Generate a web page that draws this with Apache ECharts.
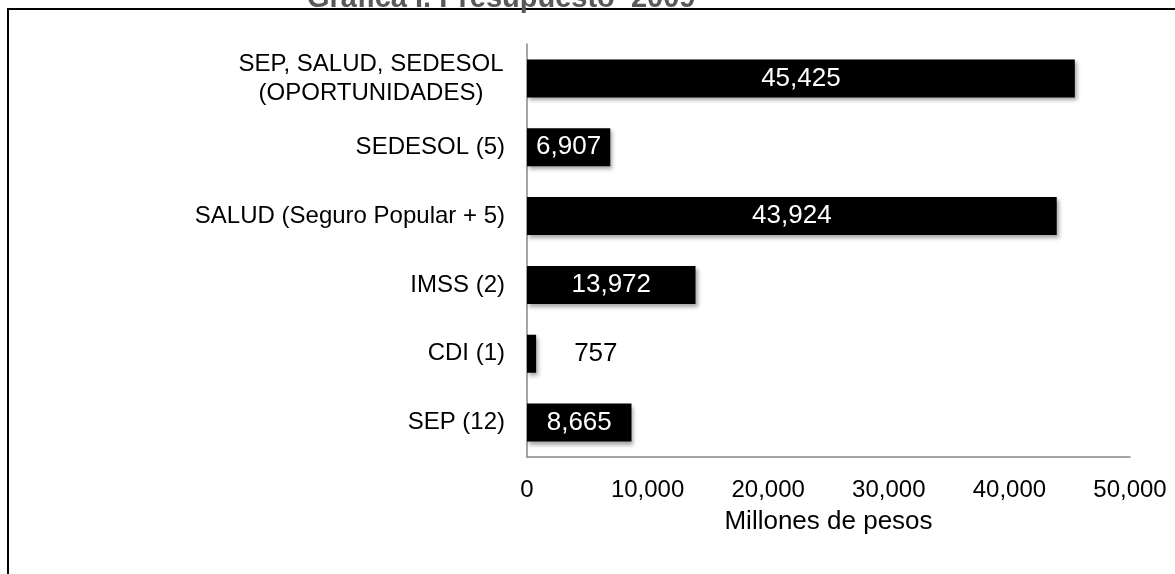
<!DOCTYPE html>
<html>
<head>
<meta charset="utf-8">
<script src="https://cdn.jsdelivr.net/npm/echarts@6/dist/echarts.min.js"></script>
<style>
  html, body { margin: 0; padding: 0; background: #fff; }
  #chart { width: 1175px; height: 574px; }
</style>
</head>
<body>
<div id="chart"></div>
<script>
// categorias de abajo hacia arriba
var categorias = ['SEP (12)', 'CDI (1)', 'IMSS (2)', 'SALUD (Seguro Popular + 5)', 'SEDESOL (5)', 'SEP, SALUD, SEDESOL\n(OPORTUNIDADES)']
var presupuesto = [8665, 757, 13972, 43924, 6907, 45425]
var ticks = [0, 10000, 20000, 30000, 40000, 50000]

var fuente = '"Liberation Sans", Arial, sans-serif'

var myChart = echarts.init(document.getElementById('chart'))

var datos = presupuesto.map(function (v) {
  var item = { value: v }
  // la barra de CDI es muy corta, la etiqueta va afuera
  if (v < 2000) {
    item.label = { position: 'right', distance: 38, color: '#000' }
  }
  return item
})

var option = {
  animation: false,
  textStyle: { fontFamily: fuente },
  title: {
    text: 'Gráfica I. Presupuesto  2009',
    left: 302,
    top: -21,
    textStyle: { color: '#595959', fontWeight: 'bold', fontSize: 29, fontFamily: fuente }
  },
  graphic: [{
    type: 'rect',
    shape: { x: 8, y: 9, width: 1300, height: 700 },
    style: { fill: 'none', stroke: '#000', lineWidth: 2 },
    silent: true
  }],
  grid: {
    left: 527,
    right: 45,
    top: 44,
    bottom: 117
  },
  xAxis: {
    type: 'value',
    min: ticks[0],
    max: ticks[ticks.length - 1],
    interval: 10000,
    name: 'Millones de pesos',
    nameLocation: 'middle',
    nameGap: 52,
    nameTextStyle: { fontSize: 26, color: '#000', fontFamily: fuente },
    axisLine: { show: true, lineStyle: { color: '#888', width: 1.5 } },
    axisTick: { show: false },
    splitLine: { show: false },
    axisLabel: {
      fontSize: 24,
      color: '#000',
      margin: 21,
      formatter: function (v) { return v.toLocaleString('en-US') }
    }
  },
  yAxis: {
    type: 'category',
    data: categorias,
    axisLine: { show: true, lineStyle: { color: '#888', width: 1.5 } },
    axisTick: { show: false },
    axisLabel: {
      fontSize: 24,
      color: '#000',
      margin: 22,
      align: 'right',
      lineHeight: 29,
      // las etiquetas de dos lineas van centradas entre si
      formatter: function (v) {
        if (v.indexOf('\n') < 0) return v
        return v.split('\n').map(function (l) { return '{m|' + l + '}' }).join('\n')
      },
      rich: {
        m: { width: 268, align: 'center', fontSize: 24, lineHeight: 29, color: '#000' }
      }
    }
  },
  series: [{
    type: 'bar',
    data: datos,
    barWidth: 38,
    itemStyle: {
      color: '#000',
      shadowColor: 'rgba(0,0,0,0.35)',
      shadowBlur: 4,
      shadowOffsetX: 2,
      shadowOffsetY: 3
    },
    label: {
      show: true,
      position: 'inside',
      color: '#fff',
      fontSize: 26,
      fontFamily: fuente,
      formatter: function (p) { return p.value.toLocaleString('en-US') }
    }
  }]
}

myChart.setOption(option)
</script>
</body>
</html>
